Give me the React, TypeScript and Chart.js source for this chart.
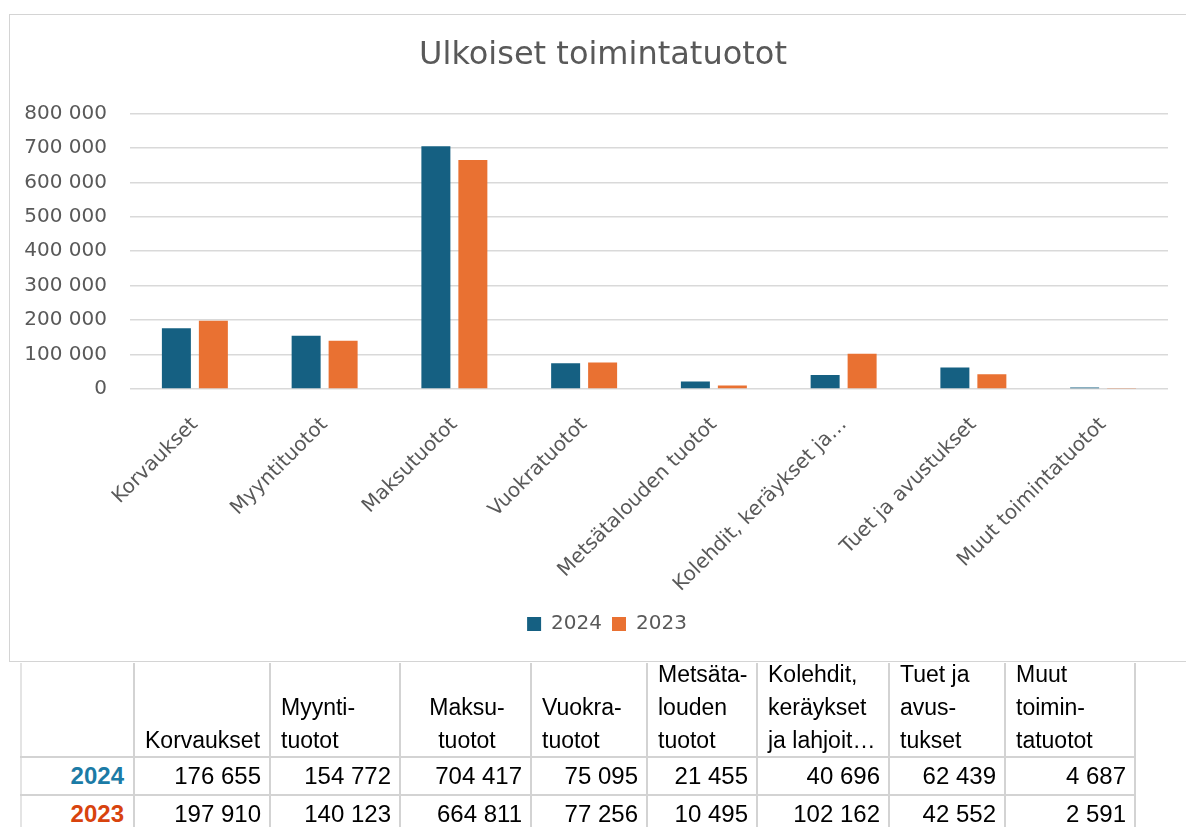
import React, { useEffect, useRef } from "react";
import { Chart, registerables } from "chart.js";

Chart.register(...registerables);

const chartTitle = "Ulkoiset toimintatuotot";
const categories = [
  "Korvaukset",
  "Myyntituotot",
  "Maksutuotot",
  "Vuokratuotot",
  "Metsätalouden tuotot",
  "Kolehdit, keräykset ja…",
  "Tuet ja avustukset",
  "Muut toimintatuotot",
];
const seriesNames = ["2024", "2023"];
const values2024 = [176655, 154772, 704417, 75095, 21455, 40696, 62439, 4687];
const values2023 = [197910, 140123, 664811, 77256, 10495, 102162, 42552, 2591];
const yMin = 0;
const yMax = 800000;
const yStep = 100000;

const tableHeaders = [
  "",
  "Korvaukset",
  "Myynti-\ntuotot",
  "Maksu-\ntuotot",
  "Vuokra-\ntuotot",
  "Metsäta-\nlouden\ntuotot",
  "Kolehdit,\nkeräykset\nja lahjoit…",
  "Tuet ja\navus-\ntukset",
  "Muut\ntoimin-\ntatuotot",
];
const headerAlign = ["left", "left", "left", "center", "left", "left", "left", "left", "left"];

const seriesColors = ["#156082", "#E97132"];
const yearColors = ["#1B7BA6", "#D8430E"];
const textColor = "#595959";
const gridColor = "#d9d9d9";
const chartFont = "'DejaVu Sans', Verdana, sans-serif";
const tableFont = "'Liberation Sans', Arial, sans-serif";

// table column edges (page px)
const colEdges = [21, 134, 270, 400, 531, 647, 757, 889, 1005, 1135];
const rowEdges = [662, 757, 795, 833];

const fmt = (n: number) => String(n).replace(/\B(?=(\d{3})+(?!\d))/g, "\u00a0");

// shifts title and legend horizontally without moving the plot area
const shiftPlugin = {
  id: "shiftBlocks",
  afterLayout(chart: any) {
    const t = chart.titleBlock;
    if (t) {
      t.left += 14;
      t.right += 14;
    }
    const l = chart.legend;
    if (l) {
      l.left += 18;
      l.right += 18;
    }
  },
};

function BarChart() {
  const ref = useRef<HTMLCanvasElement | null>(null);
  useEffect(() => {
    if (!ref.current) return;
    const font = { family: chartFont, size: 20 };
    const chart = new Chart(ref.current, {
      type: "bar",
      data: {
        labels: categories,
        datasets: [
          {
            label: seriesNames[0],
            data: values2024,
            backgroundColor: seriesColors[0],
            barPercentage: 0.784,
            categoryPercentage: 0.57,
          },
          {
            label: seriesNames[1],
            data: values2023,
            backgroundColor: seriesColors[1],
            barPercentage: 0.784,
            categoryPercentage: 0.57,
          },
        ],
      },
      options: {
        responsive: false,
        animation: false,
        layout: { padding: { left: 0, right: 18, top: 0, bottom: 17 } },
        plugins: {
          title: {
            display: true,
            text: chartTitle,
            color: textColor,
            font: { family: chartFont, size: 32, weight: "normal" },
            padding: { top: 21, bottom: 39 },
          },
          legend: {
            position: "bottom",
            labels: {
              boxWidth: 14,
              boxHeight: 14,
              padding: 10,
              color: textColor,
              font,
            },
          },
          tooltip: { enabled: false },
        },
        scales: {
          x: {
            grid: { display: false },
            border: { display: false },
            ticks: {
              color: textColor,
              font,
              minRotation: 45,
              maxRotation: 45,
              autoSkip: false,
              padding: 16,
            },
            afterFit: (s: any) => {
              s.height = 215;
            },
          },
          y: {
            min: yMin,
            max: yMax,
            ticks: {
              stepSize: yStep,
              color: textColor,
              font,
              padding: 23,
              callback: (v: any) => fmt(Number(v)),
            },
            grid: { color: gridColor, lineWidth: 1.5, drawTicks: false },
            border: { display: false },
            afterFit: (s: any) => {
              s.width = 120;
            },
          },
        },
      },
      plugins: [shiftPlugin],
    } as any);
    return () => chart.destroy();
  }, []);
  return <canvas ref={ref} width={1176} height={646} style={{ display: "block" }} />;
}

function DataTable() {
  const lineColor = "#d3d3d3";
  const cells: React.ReactNode[] = [];
  colEdges.forEach((x, i) => {
    cells.push(
      <div
        key={"v" + i}
        style={{
          position: "absolute",
          left: x - 1,
          top: rowEdges[0] + 1,
          width: 2,
          height: rowEdges[3] - rowEdges[0],
          background: i === 0 ? "#e4e4e4" : lineColor,
        }}
      />
    );
  });
  [rowEdges[1], rowEdges[2]].forEach((y, i) => {
    cells.push(
      <div
        key={"h" + i}
        style={{
          position: "absolute",
          left: colEdges[0] - 1,
          top: y - 1,
          width: colEdges[colEdges.length - 1] - colEdges[0] + 2,
          height: 2,
          background: lineColor,
        }}
      />
    );
  });
  tableHeaders.forEach((h, i) => {
    cells.push(
      <div
        key={"th" + i}
        style={{
          position: "absolute",
          left: colEdges[i],
          width: colEdges[i + 1] - colEdges[i],
          top: rowEdges[0],
          height: rowEdges[1] - rowEdges[0],
          display: "flex",
          flexDirection: "column",
          justifyContent: "flex-end",
          boxSizing: "border-box",
          padding: "0 8px 0 11px",
          textAlign: headerAlign[i] as any,
          whiteSpace: "pre-line",
          fontFamily: tableFont,
          fontSize: 23,
          lineHeight: "33px",
          color: "#000",
        }}
      >
        {h}
      </div>
    );
  });
  const rows = [values2024, values2023];
  rows.forEach((vals, r) => {
    const top = rowEdges[r + 1];
    const h = rowEdges[r + 2] - top;
    cells.push(
      <div
        key={"yr" + r}
        style={{
          position: "absolute",
          left: colEdges[0],
          width: colEdges[1] - colEdges[0],
          top,
          height: h,
          boxSizing: "border-box",
          paddingRight: 10,
          textAlign: "right",
          fontFamily: tableFont,
          fontSize: 24,
          fontWeight: "bold",
          lineHeight: h + "px",
          color: yearColors[r],
        }}
      >
        {seriesNames[r]}
      </div>
    );
    vals.forEach((v, i) => {
      cells.push(
        <div
          key={"c" + r + "-" + i}
          style={{
            position: "absolute",
            left: colEdges[i + 1],
            width: colEdges[i + 2] - colEdges[i + 1],
            top,
            height: h,
            boxSizing: "border-box",
            paddingRight: 9,
            textAlign: "right",
            fontFamily: tableFont,
            fontSize: 24,
            lineHeight: h + "px",
            color: "#000",
          }}
        >
          {fmt(v)}
        </div>
      );
    });
  });
  return <>{cells}</>;
}

export default function App() {
  return (
    <div
      style={{
        position: "fixed",
        left: 0,
        top: 0,
        width: 1186,
        height: 827,
        overflow: "hidden",
        background: "#fff",
      }}
    >
      <div
        style={{
          position: "absolute",
          left: 9,
          top: 14,
          width: 1200,
          height: 648,
          boxSizing: "border-box",
          border: "1px solid #d4d4d4",
        }}
      />
      <div style={{ position: "absolute", left: 10, top: 15 }}>
        <BarChart />
      </div>
      <DataTable />
    </div>
  );
}
